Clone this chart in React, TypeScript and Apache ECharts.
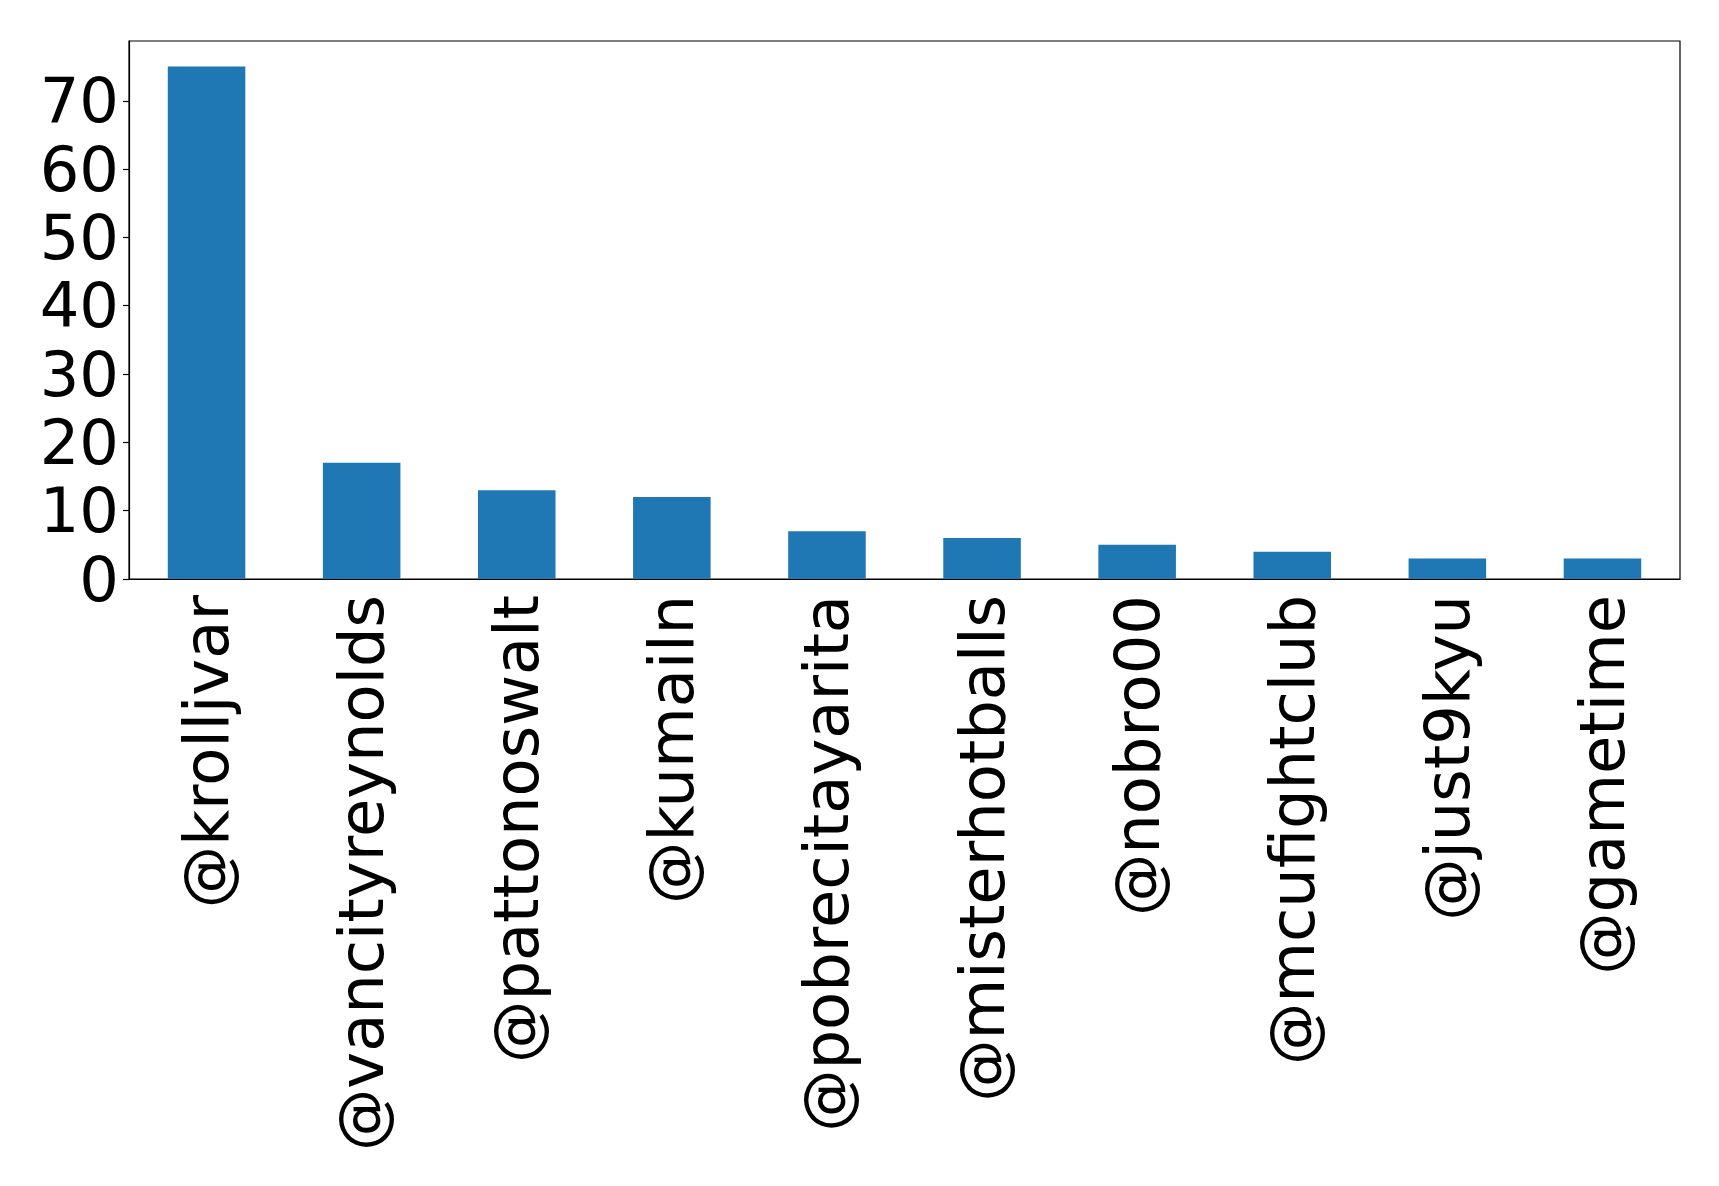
import React, { useEffect, useRef } from "react";
import * as echarts from "echarts";

const categories = [
  "@krolljvar",
  "@vancityreynolds",
  "@pattonoswalt",
  "@kumailn",
  "@pobrecitayarita",
  "@misterhotballs",
  "@nobro00",
  "@mcufightclub",
  "@just9kyu",
  "@gametime",
];
const counts = [75, 17, 13, 12, 7, 6, 5, 4, 3, 3];
const yTicks = [0, 10, 20, 30, 40, 50, 60, 70];

export default function App() {
  const ref = useRef<HTMLDivElement>(null);
  useEffect(() => {
    document.body.style.margin = "0";
    const chart = echarts.init(ref.current!, undefined, { renderer: "svg" });
    const font = "DejaVu Sans";
    chart.setOption({
      animation: false,
      backgroundColor: "#ffffff",
      grid: {
        left: 129,
        top: 41,
        right: 39,
        bottom: 607,
        show: true,
        borderColor: "#000000",
        borderWidth: 1.2,
        backgroundColor: "transparent",
      },
      xAxis: {
        type: "category",
        data: categories,
        boundaryGap: true,
        axisLine: { lineStyle: { color: "#000000", width: 1.2 } },
        axisTick: { alignWithLabel: true, length: 6, lineStyle: { color: "#000000", width: 1.2 } },
        axisLabel: {
          rotate: 90,
          interval: 0,
          margin: 16,
          color: "#000000",
          fontSize: 62.3,
          fontFamily: font,
        },
        splitLine: { show: false },
      },
      yAxis: {
        type: "value",
        min: 0,
        max: 78.75,
        interval: 10,
        axisLine: { show: true, lineStyle: { color: "#000000", width: 1.2 } },
        axisTick: {
          show: true,
          length: 6,
          lineStyle: { color: "#000000", width: 1.2 },
        },
        axisLabel: {
          margin: 10,
          color: "#000000",
          fontSize: 62.3,
          fontFamily: font,
          showMaxLabel: false,
          formatter: (v: number) => (yTicks.includes(v) ? String(v) : ""),
        },
        splitLine: { show: false },
      },
      series: [
        {
          type: "bar",
          data: counts,
          barWidth: "50%",
          itemStyle: { color: "#1f77b4" },
        },
      ],
    });
    return () => chart.dispose();
  }, []);
  return <div ref={ref} style={{ width: 1719, height: 1186 }} />;
}
